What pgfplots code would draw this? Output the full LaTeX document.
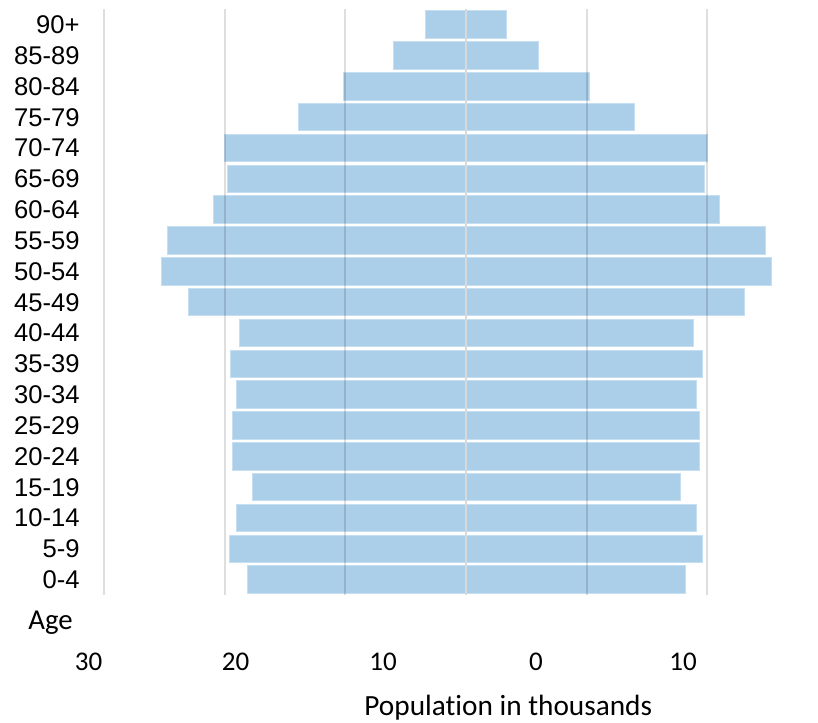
\documentclass[border=0pt]{standalone}
\usepackage{pgfplots}
\pgfplotsset{compat=1.18}
\usepackage{fontspec}
\setmainfont[Ligatures=NoCommon]{Carlito}
\newfontfamily\arialfont{Liberation Sans}
\definecolor{barblue}{RGB}{171,206,233}
\definecolor{baredge}{RGB}{198,222,241}

\begin{document}
\begin{tikzpicture}
\useasboundingbox (0,0) rectangle (409pt,361pt);
\begin{axis}[
  at={(52.1pt,63.45pt)}, anchor=south west,
  scale only axis, width=337.7pt, height=292.9pt,
  xmin=-30, xmax=26, ymin=-0.5, ymax=18.5,
  axis on top,
  axis line style={draw=none},
  major tick length=0pt,
  xtick={-30,-20,-10,10,20}, xticklabels={},
  xmajorgrids,
  grid style={black, opacity=0.13, line width=1pt},
  extra x ticks={0}, extra x tick labels={},
  extra x tick style={grid style={color=gray!30, opacity=1, line width=1pt}},
  ytick={0,...,18},
  yticklabels={0-4,5-9,10-14,15-19,20-24,25-29,30-34,35-39,40-44,45-49,50-54,55-59,60-64,65-69,70-74,75-79,80-84,85-89,90+},
  yticklabel style={font=\arialfont\fontsize{12.8}{14}\selectfont, anchor=east, inner sep=0pt, xshift=-12.1pt},
]
% left half of the pyramid
\addplot[xbar, bar width=0.89, bar shift=0pt, fill=barblue, draw=baredge, line width=0.5pt]
  coordinates {(-18.10,0) (-19.63,1) (-19.01,2) (-17.72,3) (-19.35,4) (-19.35,5) (-19.01,6) (-19.54,7) (-18.82,8) (-23.03,9) (-25.23,10) (-24.77,11) (-20.95,12) (-19.76,13) (-20.04,14) (-13.93,15) (-10.20,16) (-6.00,17) (-3.32,18)};
% right half of the pyramid
\addplot[xbar, bar width=0.89, bar shift=0pt, fill=barblue, draw=baredge, line width=0.5pt]
  coordinates {(18.16,0) (19.63,1) (19.07,2) (17.77,3) (19.35,4) (19.35,5) (19.07,6) (19.57,7) (18.85,8) (23.08,9) (25.29,10) (24.79,11) (20.98,12) (19.76,13) (20.04,14) (13.96,15) (10.25,16) (6.05,17) (3.32,18)};
\end{axis}
% axis captions and the population scale
\begin{scope}[every node/.style={inner sep=0pt, font=\fontsize{13.5}{16}\selectfont}]
  \node[anchor=base] at (44.25pt,26pt) {30};
  \node[anchor=base] at (117.75pt,26pt) {20};
  \node[anchor=base] at (191.5pt,26pt) {10};
  \node[anchor=base] at (268pt,26pt) {0};
  \node[anchor=base] at (341.5pt,26pt) {10};
\end{scope}
\node[anchor=base west, inner sep=0pt, font=\fontsize{14.4}{17}\selectfont] at (14pt,46pt) {Age};
\node[anchor=base west, inner sep=0pt, font=\fontsize{14.65}{17}\selectfont] at (182pt,3.5pt) {Population in thousands};
\end{tikzpicture}
\end{document}
